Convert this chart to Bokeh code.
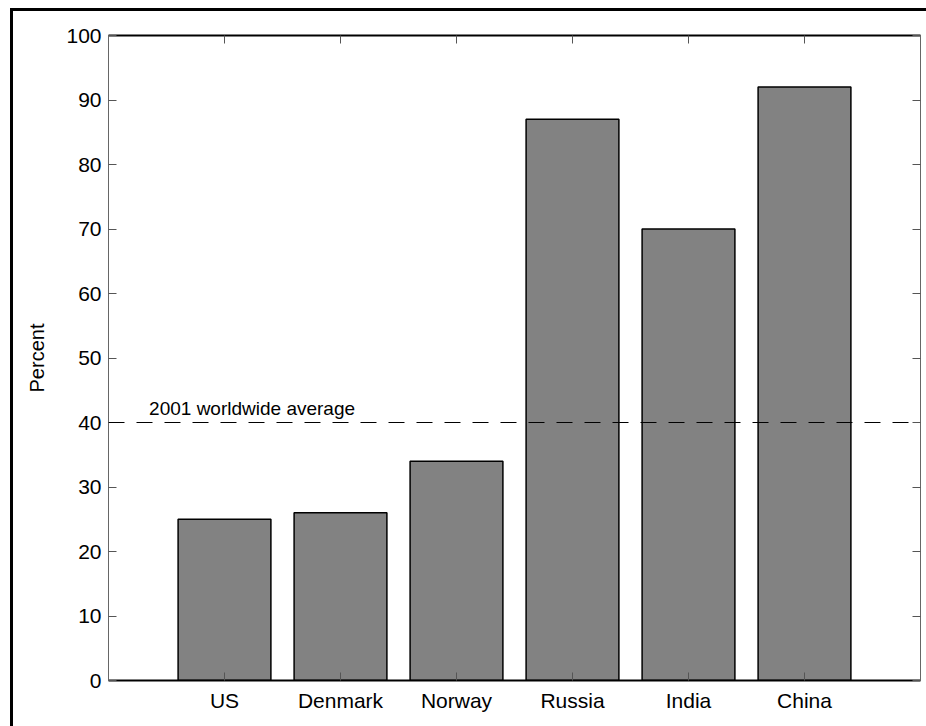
from bokeh.plotting import figure
from bokeh.models import Range1d, LinearAxis, FixedTicker, Label, Span, InlineStyleSheet
from bokeh.embed import file_html
from bokeh.resources import INLINE

categories = ["US", "Denmark", "Norway", "Russia", "India", "China"]
values = [25, 26, 34, 87, 70, 92]
average = 40
average_label = "2001 worldwide average"
y_ticks = [0, 10, 20, 30, 40, 50, 60, 70, 80, 90, 100]
y_label = "Percent"

positions = list(range(1, len(categories) + 1))
FONT = "Liberation Sans"

# outer window frame (left and top edges), drawn with CSS over the canvas
frame_css = InlineStyleSheet(css="""
:host { overflow: hidden; }
:host::after {
  content: "";
  position: absolute;
  left: 10px;
  top: 8px;
  width: 913px;
  height: 715px;
  border-left: 3px solid black;
  border-top: 3px solid black;
  pointer-events: none;
  z-index: 100;
}
""")

p = figure(width=926, height=726, output_backend="svg", toolbar_location=None,
           x_range=Range1d(0, len(categories) + 1), y_range=Range1d(0, 100),
           x_axis_location=None, y_axis_location=None,
           min_border_left=108, min_border_right=6, min_border_top=35, min_border_bottom=46,
           stylesheets=[frame_css])
p.grid.visible = False
p.outline_line_color = None
p.background_fill_color = "white"
p.border_fill_color = "white"

p.vbar(x=positions, top=values, width=0.8, fill_color="#828282",
       line_color="black", line_width=1.5)

p.add_layout(Span(location=average, dimension="width", line_color="black",
                  line_width=1, line_dash="16 12"))
p.add_layout(Label(x=0.35, y=average, y_offset=4, text=average_label,
                   text_font=FONT, text_font_size="19px", text_color="black",
                   text_baseline="bottom"))

def style_axis(ax, labels, color, width):
    ax.axis_line_color = color
    ax.axis_line_width = width
    ax.major_tick_in = 8
    ax.major_tick_out = 0
    ax.major_tick_line_color = "#555555"
    ax.minor_tick_line_color = None
    ax.major_label_text_font = FONT
    ax.major_label_text_font_size = "21px"
    ax.major_label_text_color = "black"
    if not labels:
        ax.major_label_text_alpha = 0
        ax.major_label_text_font_size = "1px"
        ax.major_label_standoff = 0

xb = LinearAxis(ticker=FixedTicker(ticks=positions),
                major_label_overrides={pos: c for pos, c in zip(positions, categories)})
style_axis(xb, True, "black", 2)
xb.major_label_standoff = 8
p.add_layout(xb, "below")

xt = LinearAxis(ticker=FixedTicker(ticks=positions))
style_axis(xt, False, "black", 2)
p.add_layout(xt, "above")

yl = LinearAxis(ticker=FixedTicker(ticks=y_ticks), axis_label=y_label)
style_axis(yl, True, "#666666", 1)
yl.major_label_standoff = 7
yl.axis_label_text_font = FONT
yl.axis_label_text_font_size = "20px"
yl.axis_label_text_font_style = "normal"
yl.axis_label_text_color = "black"
yl.axis_label_standoff = 15
p.add_layout(yl, "left")

yr = LinearAxis(ticker=FixedTicker(ticks=y_ticks))
style_axis(yr, False, "#666666", 1)
p.add_layout(yr, "right")

open("out.html", "w").write(file_html(p, INLINE))
